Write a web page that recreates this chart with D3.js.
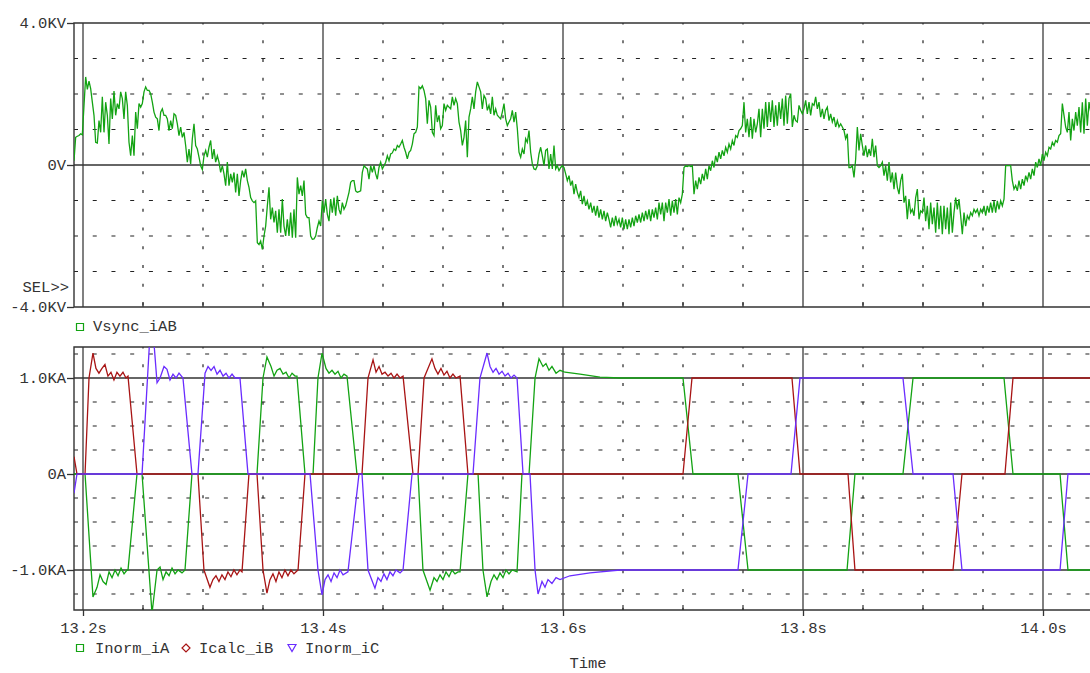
<!DOCTYPE html>
<html>
<head>
<meta charset="utf-8">
<script src="https://cdn.jsdelivr.net/npm/d3@7"></script>
<style>
  body { margin: 0; background: #fff; }
  text { font-family: "Liberation Mono", "DejaVu Sans Mono", monospace; font-size: 15.5px; fill: #333; }
</style>
</head>
<body>
<svg id="chart" width="1090" height="673"></svg>
<script>

// ---- data ----

// Vsync_iAB, in KV, one sample every 1/720 s starting at vsyncStart
var vsyncStart = 13.1925;
var vsyncStep = 1 / 720;
var vsyncKV = [
  0.12,0.78,0.81,0.83,0.88,0.85,1.68,2.48,2.13,2.36,
  2.15,1.77,1.40,0.64,0.62,1.25,0.92,1.92,0.92,1.77,
  1.40,0.59,1.87,1.30,2.08,1.40,1.73,1.58,2.06,1.87,
  1.30,2.06,1.68,0.64,0.26,0.83,0.26,1.49,1.02,1.73,
  1.63,1.73,2.06,2.20,2.10,2.10,2.01,1.77,1.49,1.35,
  1.30,0.97,1.49,1.58,1.40,1.40,1.30,0.97,1.25,1.02,
  1.44,1.40,1.16,0.83,1.07,0.78,0.92,0.55,0.08,0.45,
  0.03,0.74,1.16,0.55,0.45,0.22,-0.02,-0.13,0.26,0.41,
  0.22,0.50,0.69,0.17,0.45,0.08,0.26,0.08,-0.21,-0.02,
  -0.25,-0.58,0.08,-0.58,-0.25,-0.49,-0.21,-0.77,-0.25,-0.87,
  -0.44,-0.16,-0.35,-0.11,-0.44,-0.63,-0.92,-1.01,-1.06,-1.01,
  -2.19,-2.24,-2.14,-2.38,-2.00,-1.72,-1.15,-0.63,-1.53,-1.20,
  -1.62,-1.29,-1.91,-1.25,-1.91,-0.96,-1.72,-2.00,-1.53,-2.00,
  -1.34,-2.05,-1.25,-2.05,-0.35,-0.82,-0.58,-0.87,-0.44,-1.39,
  -1.48,-1.48,-2.00,-2.09,-2.08,-2.00,-1.76,-1.58,-1.72,-1.01,
  -1.34,-0.96,-1.39,-1.58,-0.96,-1.34,-0.92,-1.43,-0.87,-1.25,
  -1.39,-1.06,-1.25,-1.15,-0.96,-0.77,-0.49,-0.44,-0.44,-0.73,
  -0.77,-0.75,-0.73,-0.21,-0.02,-0.07,-0.11,-0.40,-0.02,-0.21,
  -0.02,-0.25,-0.40,-0.07,0.08,-0.11,-0.02,0.08,0.26,0.12,
  0.31,0.34,0.45,0.41,0.55,0.50,0.59,0.69,0.50,0.36,
  0.17,0.36,0.41,0.59,0.88,0.92,1.07,2.20,
  2.15,2.23,2.10,1.87,1.16,1.82,1.63,0.92,0.83,1.68,
  1.21,1.40,1.02,1.11,1.73,1.54,1.68,1.63,1.58,1.92,
  1.68,1.87,1.73,1.21,0.97,0.55,0.78,1.25,0.22,1.35,
  1.58,1.92,1.58,2.06,2.34,2.20,2.06,1.58,1.96,1.87,
  1.54,1.68,1.44,1.92,1.40,1.58,1.40,1.35,1.30,1.49,
  1.73,1.30,1.11,1.21,1.30,1.54,1.21,1.49,1.02,0.36,
  0.22,0.45,0.31,0.74,0.64,0.97,0.36,0.03,-0.11,-0.13,
  -0.02,0.31,0.50,0.26,-0.02,0.41,0.45,-0.11,0.31,-0.11,
  0.55,-0.11,-0.02,-0.16,-0.07,-0.02,-0.07,-0.25,-0.44,-0.30,
  -0.58,-0.44,-0.82,-0.54,-0.77,-0.92,-0.73,-1.10,-0.87,-1.15,
  -1.01,-1.25,-1.06,-1.34,-1.15,-1.43,-1.15,-1.48,-1.25,-1.53,
  -1.29,-1.58,-1.34,-1.53,-1.76,-1.48,-1.72,-1.43,-1.67,-1.53,
  -1.76,-1.48,-1.81,-1.53,-1.81,-1.53,-1.76,-1.48,-1.72,-1.43,
  -1.62,-1.39,-1.62,-1.34,-1.58,-1.29,-1.53,-1.25,-1.58,-1.25,
  -1.48,-1.20,-1.53,-1.06,-1.39,-1.06,-1.58,-1.06,-1.34,-0.96,
  -1.43,-1.01,-1.34,-0.96,-1.39,-0.92,-1.06,-0.82,-0.07,-0.02,
  -0.04,-0.02,-0.04,-0.02,-0.82,-0.44,-0.68,-0.35,-0.54,-0.25,
  -0.44,-0.11,-0.40,-0.02,-0.16,0.12,-0.07,0.26,0.08,0.36,
  0.17,0.41,0.26,0.50,0.36,0.59,0.45,0.69,0.55,0.83,
  0.78,0.97,1.02,1.11,1.77,0.92,1.30,0.78,1.35,0.74,
  1.30,0.92,1.16,1.58,
  0.78,1.58,1.02,1.77,1.07,1.77,1.21,1.82,1.07,1.68,
  1.11,1.77,1.30,1.87,1.11,1.96,1.16,1.87,2.01,1.07,
  1.40,1.25,1.21,1.68,1.54,1.44,1.58,1.82,1.44,1.77,
  1.40,1.73,1.68,1.92,1.58,1.77,1.35,1.58,1.30,1.54,
  1.63,1.25,1.44,1.21,1.35,1.07,1.25,1.07,1.16,1.07,
  0.97,0.74,0.88,-0.07,-0.07,-0.02,-0.35,0.17,1.07,0.41,
  0.88,0.55,0.26,0.55,0.22,0.45,0.26,0.74,0.22,0.55,
  -0.02,-0.07,-0.02,0.08,-0.30,-0.02,-0.44,0.08,-0.49,-0.21,
  -0.68,-0.21,-0.63,-0.82,-0.44,-0.25,-1.06,-0.87,-1.53,-0.96,
  -1.34,-1.25,-1.43,-0.92,-0.68,-1.53,-1.29,-1.34,-0.92,-1.58,
  -1.15,-1.81,-1.06,-1.67,-1.20,-1.91,-1.06,-1.81,-1.15,-1.95,
  -1.15,-1.81,-1.20,-1.95,-1.06,-1.91,-1.34,-0.92,-1.25,-0.96,
  -1.43,-1.95,-1.34,-1.72,-1.43,-1.53,-1.34,-1.43,-1.25,-1.34,
  -1.25,-1.43,-1.25,-1.34,-1.15,-1.43,-1.15,-1.34,-1.06,-1.34,
  -1.01,-1.34,-1.01,-1.25,-1.01,-1.15,-0.96,-0.02,-0.02,-0.02,
  -0.02,-0.44,-0.68,-0.58,-0.73,-0.44,-0.68,-0.40,-0.58,-0.30,
  -0.44,-0.21,-0.40,-0.11,-0.30,0.08,-0.07,0.17,-0.02,0.31,
  0.12,0.36,0.26,0.50,0.45,0.64,0.55,0.69,0.64,0.83,
  0.88,1.73,1.40,1.07,0.92,1.49,0.69,1.30,0.97,1.49,
  1.11,1.63,0.92,1.77,0.88,1.87,1.11,1.77,1.49
];

// currents: [ms after 13.2 s, KA]
var T0 = 13.2;
var inormA = [
  [-7.5,0],[1.7,0],[8.3,-1.28],[11.7,-1.18],[14.2,-1.05],[16.7,-1.12],[19.2,-1.15],[21.7,-1.02],
  [24.2,-1.08],[26.7,-1.0],[29.2,-1.06],[31.7,-0.98],[34.2,-1.04],[36.7,-1.0],[37.5,-1.0],[45.0,0],
  [49.2,0],[57.5,-1.45],[61.7,-1.0],[64.2,-0.97],[66.7,-1.1],[69.2,-1.02],[71.7,-1.06],[74.2,-0.98],
  [76.7,-1.04],[79.2,-1.0],[82.5,-1.03],[85.0,-1.0],[90.8,0],[145.0,0],[150.0,1.0],[153.3,1.22],
  [156.7,1.12],[159.2,1.02],[161.7,1.08],[164.2,1.1],[166.7,1.04],[169.2,1.06],[171.7,1.0],[174.2,1.05],
  [176.7,1.02],[178.3,1.02],[185.0,0],[191.7,0],[195.8,1.0],[199.2,1.26],[202.5,1.1],[205.0,1.05],
  [207.5,1.08],[210.0,1.04],[212.5,1.07],[215.0,1.0],[217.5,1.04],[220.0,1.02],[228.3,0],[279.2,0],
  [283.3,-1.0],[289.2,-1.21],[292.5,-1.08],[295.0,-1.12],[297.5,-1.05],[300.0,-1.1],[302.5,-1.02],
  [305.0,-1.07],[307.5,-1.0],[310.0,-1.04],[312.5,-1.02],[314.2,-1.02],[320.8,0],[329.2,0],
  [333.3,-1.0],[336.7,-1.28],[340.0,-1.12],[342.5,-1.05],[345.0,-1.1],[347.5,-1.03],[350.0,-1.08],
  [352.5,-1.0],[355.0,-1.04],[357.5,-1.0],[361.7,-1.02],[365.8,0],[371.7,0],[376.7,1.0],[380.0,1.2],
  [383.3,1.12],[385.8,1.15],[388.3,1.08],[390.8,1.12],[394.2,1.05],[397.5,1.08],[401.7,1.06],
  [414.2,1.04],[430.8,1.01],[447.5,1.0],[500.0,1.0],[508.3,0],[545.8,0],[554.2,-1.0],[636.7,-1.0],
  [643.3,0],[683.3,0],[691.7,1.0],[767.5,1.0],[775.0,0],[814.2,0],[820.8,-1.0],[840.8,-1.0]
];
var icalcB = [
  [-7.5,0.18],[-5.0,0],[1.7,0],[5.0,1.0],[8.3,1.26],[10.8,1.1],[13.3,1.05],[15.8,1.1],[18.3,1.14],
  [20.8,1.02],[23.3,1.06],[25.8,0.98],[28.3,1.06],[30.8,1.02],[33.3,1.06],[35.8,1.0],[37.5,1.02],
  [45.0,0],[95.8,0],[100.8,-1.0],[105.8,-1.18],[108.3,-1.1],[110.8,-1.06],[113.3,-1.12],[115.8,-1.05],
  [118.3,-1.1],[120.8,-1.02],[123.3,-1.07],[125.8,-1.0],[128.3,-1.05],[130.8,-1.0],[132.5,-1.02],
  [138.3,0],[145.0,0],[150.0,-1.0],[153.3,-1.24],[155.8,-1.1],[158.3,-1.04],[160.8,-1.12],[163.3,-1.02],
  [165.8,-1.08],[168.3,-1.0],[170.8,-1.06],[173.3,-1.0],[175.8,-1.04],[179.2,-1.0],[185.0,0],[232.5,0],
  [237.5,1.0],[241.7,1.19],[244.2,1.06],[246.7,1.12],[249.2,1.04],[251.7,1.06],[254.2,1.02],[256.7,1.05],
  [259.2,1.0],[261.7,1.04],[264.2,1.0],[266.7,1.02],[275.0,0],[279.2,0],[284.2,1.0],[290.8,1.2],
  [293.3,1.1],[295.8,1.04],[298.3,1.1],[300.8,1.03],[303.3,1.07],[305.8,1.0],[308.3,1.04],[310.8,1.0],
  [314.2,1.02],[320.8,0],[500.0,0],[507.5,1.0],[590.8,1.0],[597.5,0],[637.5,0],[643.3,-1.0],
  [725.0,-1.0],[732.5,0],[768.3,0],[775.0,1.0],[840.8,1.0]
];
var inormC = [
  [-7.5,-0.2],[-5.0,0],[49.2,0],[55.8,1.45],[58.3,1.5],[61.7,0.95],[64.2,1.0],[67.5,1.12],[70.0,1.09],
  [72.5,0.98],[75.0,1.04],[77.5,1.0],[80.0,1.05],[83.3,1.0],[90.8,0],[95.8,0],[101.7,1.05],[104.2,1.12],
  [106.7,1.08],[109.2,1.12],[111.7,1.04],[114.2,1.08],[116.7,1.02],[119.2,1.05],[121.7,1.0],[124.2,1.04],
  [126.7,1.0],[130.8,1.0],[137.5,0],[189.2,0],[195.8,-1.0],[199.2,-1.26],[201.7,-1.1],[204.2,-1.05],
  [206.7,-1.12],[209.2,-1.03],[211.7,-1.08],[214.2,-1.0],[216.7,-1.05],[220.8,-1.02],[230.0,0],[232.5,0],
  [237.5,-1.0],[243.3,-1.19],[245.8,-1.08],[248.3,-1.12],[250.8,-1.04],[253.3,-1.1],[255.8,-1.02],
  [258.3,-1.06],[260.8,-1.0],[264.2,-1.03],[266.7,-1.0],[274.2,0],[325.0,0],[330.8,1.0],[336.7,1.26],
  [339.2,1.12],[341.7,1.06],[344.2,1.1],[346.7,1.04],[349.2,1.07],[351.7,1.02],[354.2,1.05],[356.7,1.0],
  [359.2,1.03],[361.7,1.0],[366.7,0],[372.5,0],[376.7,-1.0],[379.2,-1.25],[382.5,-1.12],[385.0,-1.18],
  [387.5,-1.1],[390.8,-1.14],[394.2,-1.08],[397.5,-1.1],[405.8,-1.06],[422.5,-1.03],[447.5,-1.0],
  [545.8,-1.0],[554.2,0],[590.0,0],[597.5,1.0],[683.3,1.0],[691.7,0],[725.0,0],[732.5,-1.0],
  [814.2,-1.0],[820.8,0],[840.8,0]
];

var timeTicks = [13.2, 13.4, 13.6, 13.8, 14.0];
var voltTicks = [-4, 0, 4];
var voltGrid = [-3, -2, -1, 1, 2, 3];
var currTicks = [-1, 0, 1];
var currGrid = [-1.25, -0.75, -0.5, -0.25, 0.25, 0.5, 0.75, 1.25];

// ---- drawing ----

var svg = d3.select("#chart");
var left = 74, right = 1100;
var vTop = 23, vBot = 307, iTop = 347, iBot = 610;

var x = d3.scaleLinear().domain([13.2, 14.0]).range([83, 1043]);
var yV = d3.scaleLinear().domain([-4, 4]).range([vBot, vTop]);
var yI = d3.scaleLinear().domain([-1, 1]).range([570, 378]);

var minorTimes = d3.range(13.25, 14.06, 0.05).filter(function(t){
  return Math.abs(t * 5 - Math.round(t * 5)) > 0.01;
});

var colors = { green: "#13a313", red: "#a81414", blue: "#6a2cff" };

function draw_grid(top, bot, yScale, dotted, solid){
  var g = svg.append("g");

  g.selectAll("line.vdot").data(minorTimes).enter().append("line")
    .attr("x1", function(d){ return x(d); }).attr("x2", function(d){ return x(d); })
    .attr("y1", top).attr("y2", bot)
    .style("stroke", "#222").attr("stroke-width", 1.2)
    .attr("stroke-dasharray", "3,15.73").attr("stroke-dashoffset", 1.5);

  g.selectAll("line.hdot").data(dotted).enter().append("line")
    .attr("x1", left).attr("x2", right)
    .attr("y1", function(d){ return yScale(d); }).attr("y2", function(d){ return yScale(d); })
    .style("stroke", "#222").attr("stroke-width", 1.2)
    .attr("stroke-dasharray", "4,14.73");

  g.selectAll("line.vmaj").data(timeTicks).enter().append("line")
    .attr("x1", function(d){ return x(d); }).attr("x2", function(d){ return x(d); })
    .attr("y1", top).attr("y2", bot)
    .style("stroke", "#4a4a4a").attr("stroke-width", 1.4);

  g.selectAll("line.hmaj").data(solid).enter().append("line")
    .attr("x1", left).attr("x2", right)
    .attr("y1", function(d){ return yScale(d); }).attr("y2", function(d){ return yScale(d); })
    .style("stroke", "#333").attr("stroke-width", 1.3);

  // small inner ticks on the bottom edge
  g.selectAll("line.mt").data(minorTimes).enter().append("line")
    .attr("x1", function(d){ return x(d); }).attr("x2", function(d){ return x(d); })
    .attr("y1", bot - 5).attr("y2", bot)
    .style("stroke", "#333").attr("stroke-width", 1.2);

  // frame: left, top, bottom
  g.append("path")
    .attr("d", "M" + right + "," + top + "H" + left + "V" + bot + "H" + right)
    .style("fill", "none").style("stroke", "#333").attr("stroke-width", 1.4);

  svg.append("clipPath").attr("id", "clip" + top)
    .append("rect").attr("x", left).attr("y", top)
    .attr("width", right - left).attr("height", bot - top);
}

draw_grid(vTop, vBot, yV, voltGrid, [0]);
draw_grid(iTop, iBot, yI, currGrid, currTicks);

// left axes
function fmtV(d){ return d == 0 ? "0V" : d.toFixed(1) + "KV"; }
function fmtI(d){ return d == 0 ? "0A" : d.toFixed(1) + "KA"; }

var axV = svg.append("g").attr("transform", "translate(" + left + ",0)")
  .call(d3.axisLeft(yV).tickValues(voltTicks).tickFormat(fmtV).tickSize(7).tickPadding(1));
var axI = svg.append("g").attr("transform", "translate(" + left + ",0)")
  .call(d3.axisLeft(yI).tickValues(currTicks).tickFormat(fmtI).tickSize(7).tickPadding(1));
var axT = svg.append("g").attr("transform", "translate(0," + iBot + ")")
  .call(d3.axisBottom(x).tickValues(timeTicks).tickFormat(function(d){ return d.toFixed(1) + "s"; })
  .tickSize(6).tickPadding(6));

[axV, axI, axT].forEach(function(a){
  a.select(".domain").remove();
  a.selectAll("line").style("stroke", "#333").attr("stroke-width", 1.3);
  a.selectAll("text").attr("font-family", null).attr("font-size", null).style("fill", "#333");
});

svg.append("text").attr("x", 69).attr("y", 292).attr("text-anchor", "end").text("SEL>>");

// traces
var vLine = d3.line()
  .x(function(d, i){ return x(vsyncStart + i * vsyncStep); })
  .y(function(d){ return yV(d); });

svg.append("path").datum(vsyncKV)
  .attr("clip-path", "url(#clip" + vTop + ")")
  .attr("d", vLine)
  .style("fill", "none").style("stroke", colors.green).attr("stroke-width", 1.3);

var iLine = d3.line()
  .x(function(d){ return x(T0 + d[0] / 1000); })
  .y(function(d){ return yI(d[1]); });

[[inormA, colors.green], [icalcB, colors.red], [inormC, colors.blue]].forEach(function(s){
  svg.append("path").datum(s[0])
    .attr("clip-path", "url(#clip" + iTop + ")")
    .attr("d", iLine)
    .style("fill", "none").style("stroke", s[1]).attr("stroke-width", 1.3);
});

// legends
function marker(kind, cx, cy, color){
  var p;
  if (kind == "square") p = "M" + (cx - 3.5) + "," + (cy - 3.5) + "h7v7h-7z";
  if (kind == "diamond") p = "M" + cx + "," + (cy - 4) + "l4,4l-4,4l-4,-4z";
  if (kind == "tri") p = "M" + (cx - 4) + "," + (cy - 3.5) + "h8l-4,7z";
  svg.append("path").attr("d", p)
    .style("fill", "none").style("stroke", color).attr("stroke-width", 1.2);
}

marker("square", 80, 327, colors.green);
svg.append("text").attr("x", 93).attr("y", 331).text("Vsync_iAB");

var legendItems = [
  { kind: "square", mx: 80, tx: 95, label: "Inorm_iA", color: colors.green },
  { kind: "diamond", mx: 186, tx: 199, label: "Icalc_iB", color: colors.red },
  { kind: "tri", mx: 292, tx: 305, label: "Inorm_iC", color: colors.blue }
];
legendItems.forEach(function(it){
  marker(it.kind, it.mx, 648, it.color);
  svg.append("text").attr("x", it.tx).attr("y", 653).text(it.label);
});

svg.append("text").attr("x", 588).attr("y", 668).attr("text-anchor", "middle").text("Time");

</script>
</body>
</html>
